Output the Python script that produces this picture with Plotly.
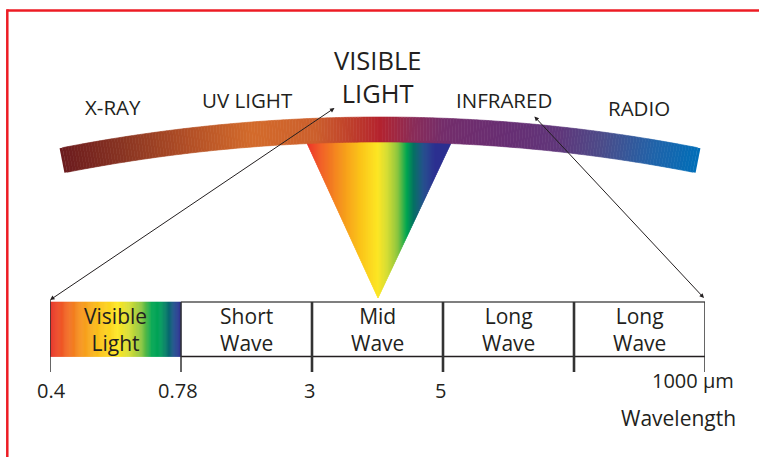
import math
import plotly.graph_objects as go

# ---------------- data ----------------
spectrum_labels = ["X-RAY", "UV LIGHT", "VISIBLE<br>LIGHT", "INFRARED", "RADIO"]
band_labels = ["Visible<br>Light", "Short<br>Wave", "Mid<br>Wave", "Long<br>Wave", "Long<br>Wave"]
boundary_labels = ["0.4", "0.78", "3", "5", "", "1000 µm"]
axis_title = "Wavelength"

# colour stops (fraction, colour)
arc_stops = [(0.0, "#6B1B1E"), (0.1, "#8A3522"), (0.2, "#B24F26"), (0.3, "#D36B2B"),
             (0.4, "#CC5F2C"), (0.45, "#C0422B"), (0.5, "#B4232E"), (0.55, "#8B2C57"),
             (0.6, "#732D6B"), (0.7, "#672E73"), (0.78, "#60367A"), (0.85, "#4B4C8A"),
             (0.93, "#2063A9"), (1.0, "#006EB8")]
prism_stops = [(0.0, "#EC2D2B"), (0.096, "#F15D29"), (0.233, "#F6921E"), (0.37, "#FBC31A"),
               (0.493, "#FDE725"), (0.56, "#D4DD36"), (0.63, "#8CC63F"), (0.692, "#00A651"),
               (0.74, "#057064"), (0.808, "#27508F"), (0.884, "#2E3192"), (1.0, "#2E3192")]
visible_stops = [(0.0, "#E8312A"), (0.076, "#EE5127"), (0.23, "#F6921E"), (0.38, "#FBC31A"),
                 (0.52, "#FDE725"), (0.61, "#D4DD36"), (0.70, "#8CC63F"), (0.78, "#00A651"),
                 (0.84, "#00A05A"), (0.9, "#05706A"), (0.95, "#214F8E"), (1.0, "#2E3192")]

# ---------------- helpers ----------------
def hex2rgb(h):
    h = h.lstrip("#")
    return tuple(int(h[i:i + 2], 16) for i in (0, 2, 4))

def interp(stops, t):
    t = min(max(t, 0.0), 1.0)
    for (t0, c0), (t1, c1) in zip(stops[:-1], stops[1:]):
        if t <= t1:
            f = 0 if t1 == t0 else (t - t0) / (t1 - t0)
            a, b = hex2rgb(c0), hex2rgb(c1)
            return "rgb(%d,%d,%d)" % tuple(round(a[i] + (b[i] - a[i]) * f) for i in range(3))
    return stops[-1][1]

def path(pts):
    return "M " + " L ".join("%.2f,%.2f" % p for p in pts) + " Z"

TXT = "#231F20"
FONT = "Open Sans"
shapes = []
annotations = []

# ---------------- prism (triangle) ----------------
tl, tr, ty = 306.0, 452.0, 141.0
ax_, ay_ = 378.0, 298.0
def ybot(x):
    if x <= ax_:
        return ty + (x - tl) * (ay_ - ty) / (ax_ - tl)
    return ty + (tr - x) * (ay_ - ty) / (tr - ax_)
n = 146
for i in range(n):
    xa = tl + (tr - tl) * i / n
    xb = tl + (tr - tl) * (i + 1) / n
    pts = [(xa, ty), (xb, ty), (xb, ybot(xb))]
    if xa < ax_ < xb:
        pts.append((ax_, ay_))
    pts.append((xa, ybot(xa)))
    col = interp(prism_stops, (i + 0.5) / n)
    shapes.append(dict(type="path", xref="x", yref="y", path=path(pts),
                       fillcolor=col, line=dict(color=col, width=0.6), layer="above"))

# ---------------- arc ----------------
cx, cy = 380.0, 1776.0
R = cy - 129.5
half_w = 12.5
half_ang = math.asin(318.0 / R)
m = 220
for i in range(m):
    a0 = -half_ang + 2 * half_ang * i / m
    a1 = -half_ang + 2 * half_ang * (i + 1) / m
    pts = []
    for a, r in ((a0, R + half_w), (a1, R + half_w), (a1, R - half_w), (a0, R - half_w)):
        pts.append((cx + r * math.sin(a), cy - r * math.cos(a)))
    col = interp(arc_stops, (i + 0.5) / m)
    lw = 0.6 if 0 < i < m - 1 else 0
    shapes.append(dict(type="path", xref="x", yref="y", path=path(pts),
                       fillcolor=col, line=dict(color=col, width=lw), layer="above"))

# ---------------- band bar (x2 axis: one unit per band) ----------------
top, bot, tick_bot = 302.0, 356.5, 372.0
k = 120
for i in range(k):
    xa, xb = i / k, (i + 1) / k
    col = interp(visible_stops, (i + 0.5) / k)
    shapes.append(dict(type="rect", xref="x2", yref="y", x0=xa, x1=xb, y0=top, y1=bot,
                       fillcolor=col, line=dict(color=col, width=0.6), layer="above"))
nb = len(band_labels)
shapes.append(dict(type="line", xref="x2", yref="y", x0=1, x1=nb, y0=top, y1=top,
                   line=dict(color="#555555", width=1.5), layer="above"))
shapes.append(dict(type="line", xref="x2", yref="y", x0=1, x1=nb, y0=bot, y1=bot,
                   line=dict(color=TXT, width=1.5), layer="above"))
for j in range(nb + 1):
    w = 2.6 if j in (2, 3, 4) else 1.5
    shapes.append(dict(type="line", xref="x2", yref="y", x0=j, x1=j,
                       y0=top - (2 if j == 0 else 0), y1=tick_bot,
                       line=dict(color="#333333", width=w), layer="above"))

for j, lab in enumerate(band_labels):
    annotations.append(dict(xref="x2", yref="y", x=j + 0.5, y=329, text=lab, showarrow=False,
                            font=dict(family=FONT, size=21, color=TXT), align="center",
                            yanchor="middle"))

for j, lab in enumerate(boundary_labels):
    if not lab:
        continue
    if j == nb:
        annotations.append(dict(xref="x2", yref="y", x=j - 0.09, y=380, text=lab, showarrow=False,
                                font=dict(family=FONT, size=20, color=TXT), yanchor="middle"))
    else:
        annotations.append(dict(xref="x2", yref="y", x=j - (0.02 if j > 0 else -0.01), y=390,
                                text=lab, showarrow=False,
                                font=dict(family=FONT, size=20, color=TXT), yanchor="middle"))
annotations.append(dict(xref="x2", yref="y", x=nb - 0.2, y=418, text=axis_title, showarrow=False,
                        font=dict(family=FONT, size=21, color=TXT), yanchor="middle"))

# ---------------- spectrum labels ----------------
lab_pos = [(113, 107), (247, 100), (377, 76), (504, 100), (639, 108)]
for lab, (x, y) in zip(spectrum_labels, lab_pos):
    big = "<br>" in lab
    annotations.append(dict(xref="x", yref="y", x=x, y=y, text=lab, showarrow=False,
                            font=dict(family=FONT, size=25.5 if big else 20.5, color=TXT),
                            yanchor="middle", align="center"))

# ---------------- arrows ----------------
for (hx, hy, tx, tyy) in [(50, 300, 336, 107), (704, 298, 533, 115)]:
    annotations.append(dict(xref="x", yref="y", axref="x", ayref="y", x=hx, y=hy, ax=tx, ay=tyy,
                            text="", showarrow=True, arrowhead=2, startarrowhead=2,
                            arrowside="end+start", arrowsize=0.9, startarrowsize=0.9,
                            arrowwidth=1, arrowcolor=TXT, standoff=0, startstandoff=0))

# ---------------- red frame ----------------
shapes.append(dict(type="line", xref="x", yref="y", x0=7.3, x1=760, y0=10.5, y1=10.5,
                   line=dict(color="#ED1C24", width=2.5), layer="above"))
shapes.append(dict(type="line", xref="x", yref="y", x0=7.3, x1=7.3, y0=9.3, y1=460,
                   line=dict(color="#ED1C24", width=2.5), layer="above"))

fig = go.Figure()
fig.add_trace(go.Scatter(x=[0], y=[0], xaxis="x", yaxis="y", mode="markers",
                         marker=dict(opacity=0), hoverinfo="skip", showlegend=False))
fig.add_trace(go.Scatter(x=[0], y=[0], xaxis="x2", yaxis="y", mode="markers",
                         marker=dict(opacity=0), hoverinfo="skip", showlegend=False))
fig.update_layout(
    width=759, height=457, margin=dict(l=0, r=0, t=0, b=0),
    paper_bgcolor="white", plot_bgcolor="white", showlegend=False,
    xaxis=dict(range=[0, 759], visible=False, domain=[0, 1], fixedrange=True),
    xaxis2=dict(range=[0, nb], visible=False, domain=[50 / 759, 705 / 759], anchor="y",
                fixedrange=True),
    yaxis=dict(range=[457, 0], visible=False, domain=[0, 1], fixedrange=True),
    shapes=shapes, annotations=annotations,
)
fig.write_html("out.html", config={"displayModeBar": False},
               post_script="document.body.style.margin='0';document.body.style.overflow='hidden';")
